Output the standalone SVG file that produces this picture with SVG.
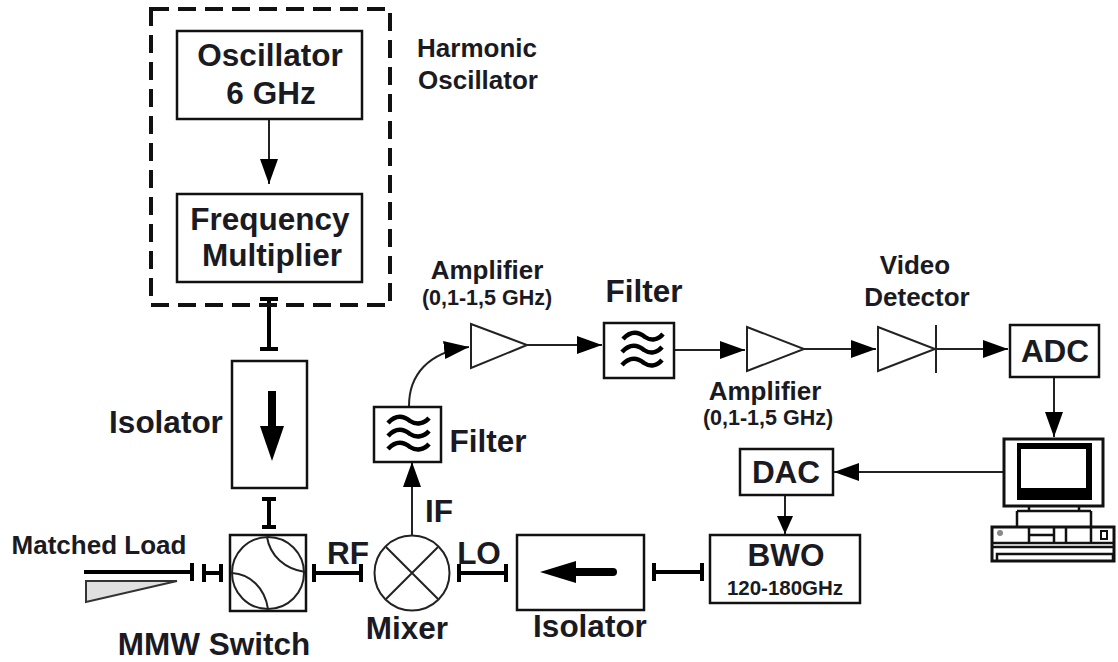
<svg xmlns="http://www.w3.org/2000/svg" width="1118" height="662" viewBox="0 0 1118 662">
<defs>
<style>
text{font-family:"Liberation Sans",Arial,sans-serif;fill:#1a1a22;text-anchor:middle;font-weight:bold}
.l{font-size:31.500px}
.s{font-size:26px}
.t{font-size:21.500px}
.box{fill:#fff;stroke:#111;stroke-width:2.500}
.thin{fill:none;stroke:#222;stroke-width:2}
.thick{fill:none;stroke:#000;stroke-width:4}
.wave{fill:none;stroke:#000;stroke-width:4.500}
.conn{fill:none;stroke:#222;stroke-width:2}
.amp{fill:#fff;stroke:#222;stroke-width:2}
</style>
<marker id="ah" markerUnits="userSpaceOnUse" markerWidth="26" markerHeight="20" refX="25" refY="9" orient="auto"><path d="M0 0L25 9L0 18Z" fill="#000"/></marker>
<marker id="ahs" markerUnits="userSpaceOnUse" markerWidth="20" markerHeight="18" refX="18" refY="8" orient="auto"><path d="M0 0L18 8L0 16Z" fill="#000"/></marker>
</defs>

<g id="connectors">
<path class="conn" d="M269 120V184" marker-end="url(#ah)"/>
<path class="conn" d="M409 406C409 375 428 352 469 347" marker-end="url(#ah)"/>
<path class="conn" d="M412 535V462" marker-end="url(#ah)"/>
<path class="conn" d="M527 345H602" marker-end="url(#ah)"/>
<path class="conn" d="M674 350H745" marker-end="url(#ah)"/>
<path class="conn" d="M804 349H876" marker-end="url(#ah)"/>
<path class="conn" d="M936 349H1008" marker-end="url(#ah)"/>
<path class="conn" d="M1054 378V437" marker-end="url(#ah)"/>
<path class="conn" d="M1004 472H834" marker-end="url(#ah)"/>
<path class="conn" d="M785 495V534" marker-end="url(#ahs)"/>
<g class="thick">
<path d="M269 299V349M260 299H278M260 349H278"/>
<path d="M269 499V527M262 499H276M262 527H276"/>
<path d="M84 572H192M192 563V581"/>
<path d="M204 573H221M204 564V582M221 564V582"/>
<path d="M314 573H361M314 564V582M361 564V582"/>
<path d="M459 573H506M459 564V582M506 564V582"/>
<path d="M654 572H702M654 563V581M702 563V581"/>
</g>
</g>

<g id="harmonic-oscillator"><rect x="151" y="9" width="239" height="296" fill="none" stroke="#111" stroke-width="4" stroke-dasharray="18 9"/>
<text class="s" x="477" y="57">Harmonic</text><text class="s" x="478" y="89">Oscillator</text></g>
<g id="oscillator"><rect class="box" x="177" y="31" width="185" height="88"/><text class="l" x="270" y="66">Oscillator</text><text class="l" x="271" y="104">6 GHz</text></g>
<g id="frequency-multiplier"><rect class="box" x="177" y="194" width="185" height="88"/><text class="l" x="270" y="230">Frequency</text><text class="l" x="272" y="266">Multiplier</text></g>

<g id="isolator-v"><rect class="box" x="232" y="361" width="75" height="127"/><path d="M272 391V430" stroke="#000" stroke-width="8" fill="none"/><path d="M260 426H284L272 461Z" fill="#000"/><text class="l" x="166" y="433">Isolator</text></g>

<g id="matched-load"><text class="s" x="99" y="554">Matched Load</text><path d="M86 581V602L177 581Z" fill="#e0e0e0" stroke="#333" stroke-width="2"/></g>

<g id="mmw-switch"><rect class="box" x="230" y="535" width="76" height="76" stroke-width="2"/><circle cx="268" cy="573" r="36" class="thin"/><path class="thin" d="M267 537C270 556 285 569 305 572M232 573C250 574 265 588 268 609"/><text class="l" x="214" y="655">MMW Switch</text></g>

<text class="l" x="348" y="564">RF</text>
<text class="l" x="439" y="522">IF</text>
<text class="l" x="479" y="564">LO</text>

<g id="mixer"><circle cx="412" cy="573" r="37.500" class="thin"/><path class="thin" d="M386 547L438 599M438 547L386 599"/><text class="l" x="407" y="639">Mixer</text></g>

<g id="filter-1"><rect class="box" x="374" y="407" width="67" height="55"/><path class="wave" d="M388 423C396 414 404 416 410 421C416 425 424 424 429 418M388 436C396 427 404 429 410 434C416 438 424 437 429 431M388 449C396 440 404 442 410 447C416 451 424 450 429 444"/><text class="l" x="488" y="452">Filter</text></g>

<g id="amplifier-1"><path class="amp" d="M471 324V368L527 345Z"/><text class="s" x="487" y="279">Amplifier</text><text class="t" x="487" y="305">(0,1-1,5 GHz)</text></g>

<g id="filter-2"><rect class="box" x="604" y="323" width="70" height="55"/><path class="wave" d="M623 339C631 330 639 332 645 337C651 341 658 340 663 334M622 352C630 343 638 345 644 350C650 354 657 353 662 347M622 365C630 356 638 358 644 363C650 367 657 366 662 360"/><text class="l" x="644" y="302">Filter</text></g>

<g id="amplifier-2"><path class="amp" d="M747 327V371L804 349Z"/><text class="s" x="765" y="400">Amplifier</text><text class="t" x="768" y="425">(0,1-1,5 GHz)</text></g>

<g id="video-detector"><path class="amp" d="M878 327V371L935 349Z"/><path d="M936 325V373" stroke="#222" stroke-width="2"/><text class="s" x="915" y="274">Video</text><text class="s" x="917" y="306">Detector</text></g>

<g id="adc"><rect class="box" x="1010" y="325" width="89" height="52"/><text class="l" x="1055" y="362">ADC</text></g>
<g id="dac"><rect class="box" x="740" y="449" width="93" height="46"/><text class="l" x="786" y="483">DAC</text></g>
<g id="bwo"><rect class="box" x="710" y="535" width="150" height="68"/><text class="l" x="786" y="566">BWO</text><text x="785" y="595" style="font-size:20.500px">120-180GHz</text></g>
<g id="isolator-h"><rect class="box" x="517" y="535" width="127" height="75"/><path d="M572 572H613" stroke="#000" stroke-width="8" stroke-linecap="round"/><path d="M540 572L576 561V583Z" fill="#000"/><text class="l" x="590" y="637">Isolator</text></g>

<g id="computer">
<rect x="1004" y="439" width="99" height="67" fill="#fff" stroke="#111" stroke-width="3"/>
<rect x="1017" y="443" width="75" height="57" fill="#000"/>
<rect x="1021" y="449" width="65" height="39" fill="#fff"/>
<path fill="none" stroke="#111" stroke-width="2.500" d="M1029 506V511M1079 506V511M1017 511H1091M1017 511V527M1091 511V527"/>
<rect x="992" y="527" width="122" height="34" fill="#fff" stroke="#111" stroke-width="3"/>
<path fill="none" stroke="#111" stroke-width="2.500" d="M992 543H1114M992 547H1114M1029 527V542M1054 527V542M1066 527V542M1091 527V542M1029 535H1054M997 561V554H1113V561"/>
<rect x="1101" y="531" width="6" height="8" fill="#fff" stroke="#111" stroke-width="2"/>
<circle cx="1000" cy="533" r="3" fill="#888"/>
</g>
</svg>
